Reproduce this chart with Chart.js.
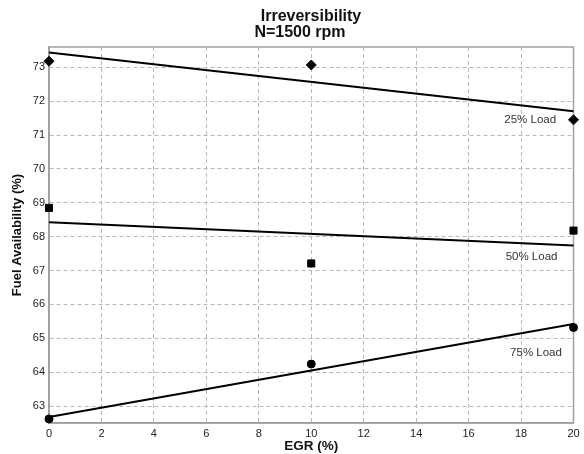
<!DOCTYPE html>
<html>
<head>
<meta charset="utf-8">
<script src="https://cdn.jsdelivr.net/npm/chart.js@4/dist/chart.umd.min.js"></script>
<style>
html,body{margin:0;padding:0;background:#fff;}
#wrap{width:584px;height:454px;position:relative;}
</style>
</head>
<body>
<div id="wrap"><canvas id="c" width="584" height="454"></canvas></div>
<script>
// ---- data ----
const egr = [0, 10, 20];
const load25 = [73.18, 73.07, 71.45];
const load50 = [68.85, 67.21, 68.18];
const load75 = [62.62, 64.24, 65.32];
const fitX = [0, 20];
const fit25 = [73.44, 71.70];
const fit50 = [68.43, 67.74];
const fit75 = [62.68, 65.42];
const seriesNames = ['25% Load', '50% Load', '75% Load'];
const xTicks = [0, 2, 4, 6, 8, 10, 12, 14, 16, 18, 20];
const yTicks = [63, 64, 65, 66, 67, 68, 69, 70, 71, 72, 73];
const titleLines = ['Irreversibility', 'N=1500 rpm'];
const xTitle = 'EGR (%)';
const yTitle = 'Fuel Availability (%)';

const pts = (xs, ys) => xs.map((x, i) => ({x: x, y: ys[i]}));

const FONT = "'Liberation Sans', Arial, Helvetica, sans-serif";

const labelPlugin = {
  id: 'loadLabels',
  afterDatasetsDraw(chart, args, opts) {
    const ctx = chart.ctx;
    const xs = chart.scales.x, ys = chart.scales.y;
    ctx.save();
    ctx.font = '11.5px ' + FONT;
    ctx.fillStyle = '#333';
    ctx.textAlign = 'center';
    ctx.textBaseline = 'middle';
    opts.anchors.forEach((a, i) => {
      ctx.fillText(seriesNames[i], xs.getPixelForValue(a[0]), ys.getPixelForValue(a[1]));
    });
    ctx.restore();
  }
};

const framePlugin = {
  id: 'frame',
  beforeDatasetsDraw(chart) {
    const {ctx, chartArea: a} = chart;
    ctx.save();
    ctx.strokeStyle = '#a0a0a0';
    ctx.lineWidth = 1.5;
    ctx.setLineDash([]);
    ctx.strokeRect(a.left, a.top, a.right - a.left, a.bottom - a.top);
    ctx.restore();
  }
};

const titlePlugin = {
  id: 'twoLineTitle',
  afterDraw(chart) {
    const ctx = chart.ctx;
    ctx.save();
    ctx.font = 'bold 16px ' + FONT;
    ctx.fillStyle = '#111';
    ctx.textAlign = 'center';
    ctx.textBaseline = 'alphabetic';
    ctx.fillText(titleLines[0], 311, 21);
    ctx.fillText(titleLines[1], 300, 37);
    ctx.restore();
  }
};

new Chart(document.getElementById('c'), {
  type: 'scatter',
  data: {
    datasets: [
      {label: seriesNames[0], data: pts(egr, load25), pointStyle: 'rectRot', pointRadius: 5, backgroundColor: '#000', borderColor: '#000', showLine: false},
      {label: seriesNames[1], data: pts(egr, load50), pointStyle: 'rect', pointRadius: 5, backgroundColor: '#000', borderColor: '#000', showLine: false},
      {label: seriesNames[2], data: pts(egr, load75), pointStyle: 'circle', pointRadius: 4, backgroundColor: '#000', borderColor: '#000', showLine: false},
      {label: 'fit25', data: pts(fitX, fit25), showLine: true, pointRadius: 0, borderColor: '#000', borderWidth: 2},
      {label: 'fit50', data: pts(fitX, fit50), showLine: true, pointRadius: 0, borderColor: '#000', borderWidth: 2},
      {label: 'fit75', data: pts(fitX, fit75), showLine: true, pointRadius: 0, borderColor: '#000', borderWidth: 2}
    ]
  },
  options: {
    responsive: false,
    animation: false,
    clip: false,
    layout: {padding: {top: 47, right: 10.5, left: 0, bottom: 0}},
    plugins: {
      legend: {display: false},
      tooltip: {enabled: false},
      title: {display: false},
      loadLabels: {anchors: [[18.35, 71.45], [18.4, 67.42], [18.57, 64.57]]}
    },
    scales: {
      x: {
        type: 'linear',
        min: 0, max: 20,
        afterBuildTicks(s) { s.ticks = xTicks.map(v => ({value: v})); },
        afterFit(s) { s.height = 31; },
        grid: {color: '#b8b8b8', lineWidth: 1, drawTicks: false},
        border: {display: true, color: '#a0a0a0', width: 1.5, dash: [4, 3]},
        ticks: {font: {family: FONT, size: 11}, color: '#222', padding: 4, maxRotation: 0},
        title: {display: true, text: xTitle, font: {family: FONT, size: 13.5, weight: 'bold'}, color: '#111', padding: {top: 0, bottom: 0}}
      },
      y: {
        type: 'linear',
        min: 62.5, max: 73.6,
        afterBuildTicks(s) { s.ticks = yTicks.map(v => ({value: v})); },
        afterFit(s) { s.width = 49; },
        grid: {color: '#b8b8b8', lineWidth: 1, drawTicks: false},
        border: {display: true, color: '#a0a0a0', width: 1.5, dash: [4, 3]},
        ticks: {font: {family: FONT, size: 11}, color: '#222', padding: 4},
        title: {display: true, text: yTitle, font: {family: FONT, size: 13, weight: 'bold'}, color: '#111', padding: {top: 10, bottom: 0}}
      }
    }
  },
  plugins: [framePlugin, labelPlugin, titlePlugin]
});
</script>
</body>
</html>
